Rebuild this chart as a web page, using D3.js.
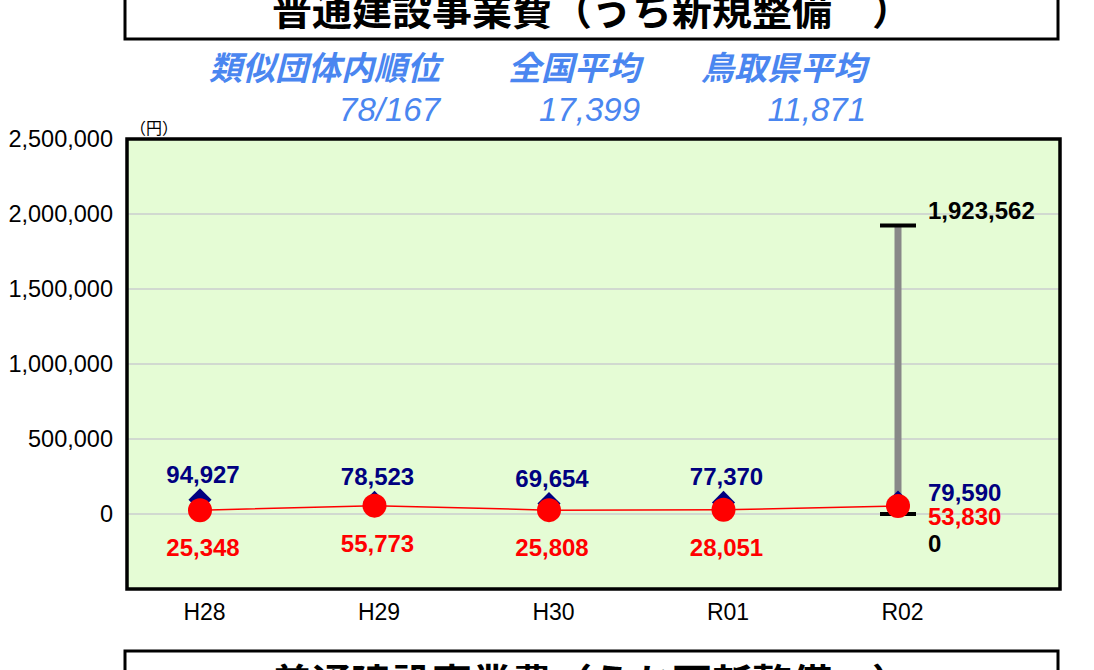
<!DOCTYPE html>
<html>
<head>
<meta charset="utf-8">
<script src="https://cdn.jsdelivr.net/npm/d3@7"></script>
<style>
  body { margin: 0; background: #fff; }
  svg { display: block; }
</style>
</head>
<body>
<div id="chart"></div>
<script>
// data
var years = ["H28", "H29", "H30", "R01", "R02"];
var townValues = [25348, 55773, 25808, 28051, 53830];      // red circles
var groupAverage = [94927, 78523, 69654, 77370, 79590];    // navy diamonds
var rangeMax = 1923562, rangeMin = 0;                      // R02 bar
var yTicks = [0, 500000, 1000000, 1500000, 2000000, 2500000];
var statLabels = ["類似団体内順位", "全国平均", "鳥取県平均"];
var statValues = ["78/167", "17,399", "11,871"];

var width = 1094, height = 670;
var num = "'Liberation Sans', Arial, sans-serif";
var jp = "'Noto Sans CJK JP', sans-serif";

var svg = d3.select("#chart").append("svg")
    .attr("width", width)
    .attr("height", height);

// title box (cut at top)
svg.append("rect")
    .attr("x", 125).attr("y", -20)
    .attr("width", 933).attr("height", 59)
    .attr("fill", "#fff").attr("stroke", "#000").attr("stroke-width", 3);
svg.append("text")
    .attr("x", 592).attr("y", 25)
    .attr("text-anchor", "middle")
    .style("font-family", jp).style("font-weight", "bold").style("font-size", "40px")
    .text("普通建設事業費（うち新規整備　）");

// stats header
var statRight = [440, 640, 866];
statLabels.forEach(function(s, i) {
    svg.append("text")
        .attr("x", statRight[i]).attr("y", 80)
        .attr("text-anchor", "end")
        .style("font-family", jp).style("font-weight", "bold").style("font-style", "italic")
        .style("font-size", "33px").attr("fill", "#4a86f0")
        .text(s);
    svg.append("text")
        .attr("x", statRight[i]).attr("y", 121)
        .attr("text-anchor", "end")
        .style("font-family", num).style("font-style", "italic")
        .style("font-size", "33px").attr("fill", "#4a86f0")
        .text(statValues[i]);
});

// plot area
var pLeft = 127, pRight = 1060, pTop = 139, pBottom = 589;

var x = d3.scalePoint().domain(years).range([200, 898]);
var y = d3.scaleLinear().domain([-500000, 2500000]).range([pBottom, pTop]);

svg.append("rect")
    .attr("x", pLeft).attr("y", pTop)
    .attr("width", pRight - pLeft).attr("height", pBottom - pTop)
    .attr("fill", "#e5fcd5");

// grid
svg.append("g").selectAll("line").data(yTicks).enter().append("line")
    .attr("x1", pLeft).attr("x2", pRight)
    .attr("y1", function(d) { return y(d); })
    .attr("y2", function(d) { return y(d); })
    .attr("stroke", "#bdb6cc").attr("stroke-width", 1.2);

// y axis labels
var yAxis = d3.axisLeft(y).tickValues(yTicks).tickSize(0).tickPadding(14)
    .tickFormat(d3.format(","));
var gy = svg.append("g").attr("transform", "translate(" + pLeft + ",0)").call(yAxis);
gy.select(".domain").remove();
gy.selectAll("text")
    .style("font-family", num).style("font-size", "23.5px").attr("fill", "#000");

svg.append("text")
    .attr("x", 130).attr("y", 134)
    .style("font-family", jp).style("font-size", "16px")
    .text("（円）");

// x axis labels
var xAxis = d3.axisBottom(x).tickSize(0).tickPadding(14);
var gx = svg.append("g").attr("transform", "translate(4," + (pBottom + 1) + ")").call(xAxis);
gx.select(".domain").remove();
gx.selectAll("text")
    .style("font-family", num).style("font-size", "23px").attr("fill", "#000");

// R02 range bar
var lastX = x(years[years.length - 1]);
svg.append("line")
    .attr("x1", lastX).attr("x2", lastX)
    .attr("y1", y(rangeMax)).attr("y2", y(rangeMin))
    .attr("stroke", "#888").attr("stroke-width", 7);
[rangeMax, rangeMin].forEach(function(v) {
    svg.append("line")
        .attr("x1", lastX - 18).attr("x2", lastX + 18)
        .attr("y1", y(v)).attr("y2", y(v))
        .attr("stroke", "#000").attr("stroke-width", 4);
});

// red line
var line = d3.line()
    .x(function(d, i) { return x(years[i]); })
    .y(function(d) { return y(d); });
svg.append("path")
    .datum(townValues)
    .attr("d", line)
    .attr("fill", "none").attr("stroke", "#ff0000").attr("stroke-width", 1.5);

// navy diamonds
var diamond = d3.symbol().type(d3.symbolDiamond2).size(340);
svg.append("g").selectAll("path").data(groupAverage).enter().append("path")
    .attr("d", diamond)
    .attr("transform", function(d, i) { return "translate(" + x(years[i]) + "," + y(d) + ")"; })
    .attr("fill", "#000080");

// red circles
svg.append("g").selectAll("circle").data(townValues).enter().append("circle")
    .attr("cx", function(d, i) { return x(years[i]); })
    .attr("cy", function(d) { return y(d); })
    .attr("r", 12)
    .attr("fill", "#ff0000");

// data labels
var fmt = d3.format(",");
var last = years.length - 1;
groupAverage.forEach(function(v, i) {
    var t = svg.append("text")
        .style("font-family", num).style("font-weight", "bold").style("font-size", "24px")
        .attr("fill", "#000080").text(fmt(v));
    if (i < last) t.attr("x", x(years[i]) + 3).attr("y", y(v) - 17).attr("text-anchor", "middle");
    else t.attr("x", x(years[i]) + 30).attr("y", y(v) - 1);
});
townValues.forEach(function(v, i) {
    var t = svg.append("text")
        .style("font-family", num).style("font-weight", "bold").style("font-size", "24px")
        .attr("fill", "#ff0000").text(fmt(v));
    if (i < last) t.attr("x", x(years[i]) + 3).attr("y", y(v) + 46).attr("text-anchor", "middle");
    else t.attr("x", x(years[i]) + 30).attr("y", y(v) + 19);
});
[rangeMax, rangeMin].forEach(function(v, k) {
    svg.append("text")
        .attr("x", lastX + 30).attr("y", k === 0 ? y(v) - 6 : y(v) + 38)
        .style("font-family", num).style("font-weight", "bold").style("font-size", "24px")
        .attr("fill", "#000").text(fmt(v));
});

// plot border
svg.append("rect")
    .attr("x", pLeft).attr("y", pTop)
    .attr("width", pRight - pLeft).attr("height", pBottom - pTop)
    .attr("fill", "none").attr("stroke", "#000").attr("stroke-width", 3.5);

// next chart's title box (cut at bottom)
svg.append("rect")
    .attr("x", 125).attr("y", 651)
    .attr("width", 933).attr("height", 60)
    .attr("fill", "#fff").attr("stroke", "#000").attr("stroke-width", 3);
svg.append("text")
    .attr("x", 592).attr("y", 698)
    .attr("text-anchor", "middle")
    .style("font-family", jp).style("font-weight", "bold").style("font-size", "40px")
    .text("普通建設事業費（うち更新整備　）");
</script>
</body>
</html>
